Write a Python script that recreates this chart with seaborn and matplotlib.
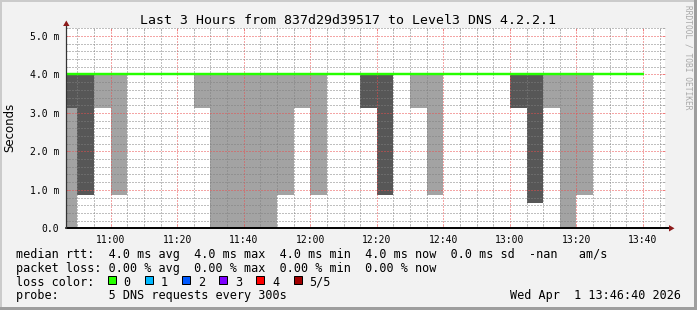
import matplotlib
matplotlib.use("Agg")
import matplotlib.pyplot as plt
from matplotlib.patches import Rectangle, Polygon
from matplotlib.lines import Line2D
from matplotlib.ticker import MultipleLocator
import pandas as pd
import seaborn as sns

# ---------------- data ----------------
title = "Last 3 Hours from 837d29d39517 to Level3 DNS 4.2.2.1"
x_start = "10:46:40"
x_end = "13:46:40"
x_tick_labels = ["11:00", "11:20", "11:40", "12:00", "12:20", "12:40", "13:00", "13:20", "13:40"]
y_ticks = [0, 1, 2, 3, 4, 5]
y_tick_labels = ["0.0", "1.0 m", "2.0 m", "3.0 m", "4.0 m", "5.0 m"]
y_label = "Seconds"

# smoke segments (5 minute bins): start, low, high (ms), shade
smoke_start = ["10:45", "10:45", "10:50", "10:55", "11:00", "11:25", "11:30", "11:35",
               "11:40", "11:45", "11:50", "11:55", "12:00", "12:15", "12:20", "12:30",
               "12:35", "13:00", "13:05", "13:10", "13:15", "13:20"]
smoke_low = [0.0, 3.14, 0.87, 3.14, 0.87, 3.14, 0.0, 0.0,
             0.0, 0.0, 0.87, 3.14, 0.87, 3.14, 0.87, 3.14,
             0.87, 3.14, 0.67, 3.14, 0.0, 0.87]
smoke_high = [3.14, 4.0, 4.0, 4.0, 4.0, 4.0, 4.0, 4.0,
              4.0, 4.0, 4.0, 4.0, 4.0, 4.0, 4.0, 4.0,
              4.0, 4.0, 4.0, 4.0, 4.0, 4.0]
smoke_shade = ["light", "dark", "dark", "light", "light", "light", "light", "light",
               "light", "light", "light", "light", "light", "dark", "dark", "light",
               "light", "dark", "dark", "light", "light", "light"]

# median rtt per 5-minute bin (last entry closes the final step)
median_time = ["10:45", "10:50", "10:55", "11:00", "11:05", "11:10", "11:15", "11:20",
               "11:25", "11:30", "11:35", "11:40", "11:45", "11:50", "11:55", "12:00",
               "12:05", "12:10", "12:15", "12:20", "12:25", "12:30", "12:35", "12:40",
               "12:45", "12:50", "12:55", "13:00", "13:05", "13:10", "13:15", "13:20",
               "13:25", "13:30", "13:35", "13:40"]
median_ms = [4.0, 4.0, 4.0, 4.0, 4.0, 4.0, 4.0, 4.0,
             4.0, 4.0, 4.0, 4.0, 4.0, 4.0, 4.0, 4.0,
             4.0, 4.0, 4.0, 4.0, 4.0, 4.0, 4.0, 4.0,
             4.0, 4.0, 4.0, 4.0, 4.0, 4.0, 4.0, 4.0,
             4.0, 4.0, 4.0, 4.0]

loss_labels = ["0", "1", "2", "3", "4", "5/5"]
loss_colors = ["#26ff00", "#00b8ff", "#0059ff", "#7e00ff", "#ff0000", "#a10000"]

legend_rows = [
    "median rtt:  4.0 ms avg  4.0 ms max  4.0 ms min  4.0 ms now  0.0 ms sd  -nan   am/s",
    "packet loss: 0.00 % avg  0.00 % max  0.00 % min  0.00 % now",
    "loss color:",
    "probe:       5 DNS requests every 300s",
]
date_text = "Wed Apr  1 13:46:40 2026"
watermark = "RRDTOOL / TOBI OETIKER"

# ---------------- style ----------------
W, H = 697, 310
BG = "#f2f2f2"
DARK = "#575757"
LIGHT = "#a3a3a3"
GRID = (0.50, 0.50, 0.50, 0.33)
MGRID = (0.92, 0.30, 0.30, 0.48)
ARROW = "#8c1a1a"
MEDIAN = "#26ff00"

sns.set_theme(style="white")
plt.rcParams["font.family"] = ["DejaVu Sans Mono", "DejaVu Sans"]
plt.rcParams["text.color"] = "black"


def hm(s):
    p = [int(v) for v in s.split(":")]
    return p[0] * 60 + p[1] + (p[2] / 60.0 if len(p) > 2 else 0.0)


def P(x, y):
    return (x / W, 1 - y / H)


fig = plt.figure(figsize=(W / 100, H / 100), dpi=100, facecolor=BG)

# frame shading
fig.add_artist(Rectangle(P(0, 2), 1, 2 / H, transform=fig.transFigure, color="#cbcbcb", lw=0))
fig.add_artist(Rectangle(P(0, H), 2 / W, 1, transform=fig.transFigure, color="#cbcbcb", lw=0))
fig.add_artist(Rectangle(P(0, H), 1, 3 / H, transform=fig.transFigure, color="#9e9e9e", lw=0))
fig.add_artist(Rectangle(P(W - 3, H), 3 / W, 1, transform=fig.transFigure, color="#9e9e9e", lw=0))

L, R, T, B = 66.3, 665.2, 27.5, 228.3
ax = fig.add_axes([L / W, (H - B) / H, (R - L) / W, (B - T) / H])
ax.set_facecolor("white")

# smoke
xs = [hm(t) for t in smoke_start]
heights = [h - l for l, h in zip(smoke_low, smoke_high)]
cols = [DARK if s == "dark" else LIGHT for s in smoke_shade]
ax.bar(xs, heights, bottom=smoke_low, width=5, align="edge", color=cols,
       linewidth=0, antialiased=False, zorder=1)

# median
df = pd.DataFrame({"t": [hm(t) for t in median_time], "ms": median_ms})
sns.lineplot(data=df, x="t", y="ms", ax=ax, drawstyle="steps-post", color=MEDIAN,
             linewidth=1.75, zorder=4)

ax.set_xlim(hm(x_start), hm(x_end))
ax.set_ylim(0, 5.22)
ax.set_xlabel("")
ax.set_ylabel("")

ax.set_xticks([hm(t) for t in x_tick_labels], labels=x_tick_labels)
ax.xaxis.set_minor_locator(MultipleLocator(5))
ax.set_yticks(y_ticks, labels=y_tick_labels)
ax.yaxis.set_minor_locator(MultipleLocator(0.2))

ax.set_axisbelow(False)
ax.grid(which="minor", color=GRID, linestyle=(0, (1, 2)), linewidth=0.72)
ax.grid(which="major", color=MGRID, linestyle=(0, (1, 2)), linewidth=0.72)

ax.tick_params(axis="both", which="both", labelsize=7, colors="black")
ax.tick_params(axis="x", which="major", direction="in", length=2, width=0.72,
               color=MGRID, pad=4.8, top=True, bottom=True)
ax.tick_params(axis="x", which="minor", direction="in", length=2, width=0.72,
               color=GRID, top=True, bottom=True)
ax.tick_params(axis="y", which="major", direction="in", length=2, width=0.72,
               color=MGRID, pad=5.0, left=True, right=True)
ax.tick_params(axis="y", which="minor", direction="in", length=2, width=0.72,
               color=GRID, left=True, right=True)
for sp in ax.spines.values():
    sp.set_visible(False)

# axes lines + arrows
fig.add_artist(Line2D([P(L, B)[0], P(669, B)[0]], [P(L, B)[1]] * 2, color="black",
                      lw=1.4, transform=fig.transFigure, zorder=5))
fig.add_artist(Line2D([P(L, B)[0]] * 2, [P(L, B)[1], P(L, 25)[1]], color="#333333",
                      lw=0.9, transform=fig.transFigure, zorder=5))
fig.add_artist(Polygon([P(669, B - 3.2), P(669, B + 3.2), P(674.5, B)], closed=True,
                       transform=fig.transFigure, color=ARROW, lw=0, zorder=6))
fig.add_artist(Polygon([P(L - 3.2, 26), P(L + 3.2, 26), P(L, 20.5)], closed=True,
                       transform=fig.transFigure, color=ARROW, lw=0, zorder=6))

# texts
fig.text(*P(348.5, 24.3), title, ha="center", va="baseline", fontsize=9.5)
fig.text(*P(10, 127), y_label, rotation=90, ha="center", va="center", fontsize=8.5,
         family="DejaVu Sans")
fig.text(*P(688, 5), watermark, rotation=270, ha="center", va="top", fontsize=5.7,
         color="#a8a8a8")

row_base = [258.3, 271.9, 285.5, 299.1]
for txt, yb in zip(legend_rows, row_base):
    fig.text(*P(16, yb), txt, ha="left", va="baseline", fontsize=8.5)
fig.text(*P(681, row_base[3]), date_text, ha="right", va="baseline", fontsize=8.5)

for i, (lab, c) in enumerate(zip(loss_labels, loss_colors)):
    x0 = 107.8 + i * 37.14
    fig.add_artist(Rectangle(P(x0, 284.2), 8.0 / W, 8.0 / H, transform=fig.transFigure,
                             facecolor=c, edgecolor="black", lw=0.72))
    fig.text(*P(x0 + 15.8, row_base[2]), lab, ha="left", va="baseline", fontsize=8.5)

fig.savefig("out.png", dpi=100, facecolor=BG)
